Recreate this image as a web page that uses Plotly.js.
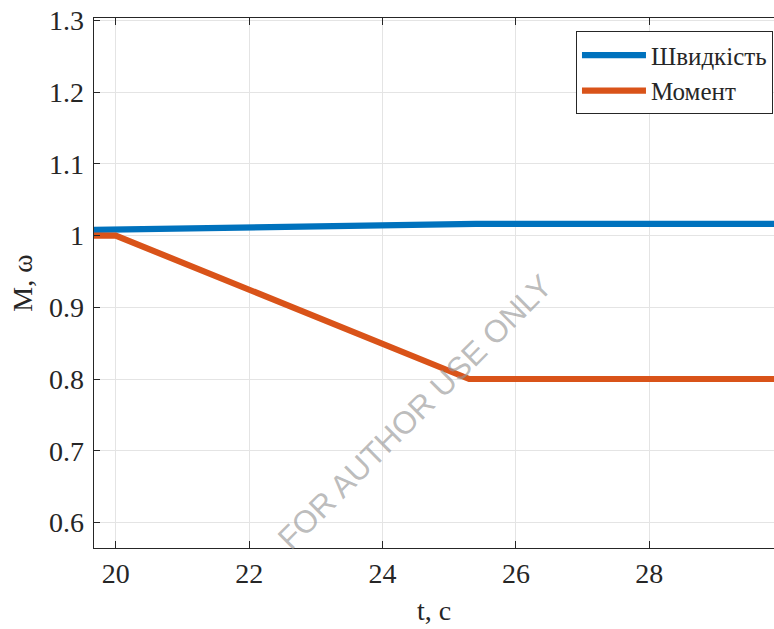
<!DOCTYPE html>
<html>
<head>
<meta charset="utf-8">
<script src="https://cdn.plot.ly/plotly-3.0.1.min.js"></script>
<style>
  html, body { margin: 0; padding: 0; background: #ffffff; }
  #chart { width: 774px; height: 629px; }
</style>
</head>
<body>
<div id="chart"></div>
<script>
// Time samples (s) and responses of speed and torque
const tSpeed = [19.674, 25.4, 29.87];
const speed = [1.008, 1.0165, 1.0165];

const tTorque = [19.674, 20.0, 25.3, 29.87];
const torque = [1.0, 1.0, 0.8, 0.8];

const xTicks = [20, 22, 24, 26, 28];
const yTicks = [0.6, 0.7, 0.8, 0.9, 1.0, 1.1, 1.2, 1.3];
const yTickText = ['0.6', '0.7', '0.8', '0.9', '1', '1.1', '1.2', '1.3'];

const serif = 'Liberation Serif';
const ink = '#262626';

const traces = [
  {
    x: tSpeed, y: speed, name: 'Швидкість', mode: 'lines',
    line: { color: '#0072BD', width: 6.2 }
  },
  {
    x: tTorque, y: torque, name: 'Момент', mode: 'lines',
    line: { color: '#D95319', width: 6.2 }
  }
];

const layout = {
  width: 774, height: 629,
  margin: { l: 94.3, r: 0, t: 17.5, b: 80.7 },
  paper_bgcolor: '#ffffff', plot_bgcolor: '#ffffff',
  font: { family: serif, color: ink, size: 28 },
  showlegend: true,
  legend: {
    x: 0.9985, xanchor: 'right', y: 0.9746, yanchor: 'top',
    bgcolor: '#ffffff', bordercolor: ink, borderwidth: 1,
    font: { family: serif, size: 25, color: ink },
    itemwidth: 64, entrywidth: 210, tracegroupgap: 0,
    traceorder: 'normal'
  },
  xaxis: {
    range: [19.674, 29.87],
    tickmode: 'array', tickvals: xTicks,
    ticks: 'inside', ticklen: 7, tickcolor: ink, tickwidth: 1,
    showline: true, linecolor: ink, linewidth: 1.3, mirror: 'ticks',
    showgrid: true, gridcolor: '#e4e4e4', gridwidth: 1,
    zeroline: false,
    tickfont: { family: serif, size: 28, color: ink },
    title: { text: 't, с', font: { family: serif, size: 28, color: ink }, standoff: 12 }
  },
  yaxis: {
    range: [0.5643, 1.3035],
    tickmode: 'array', tickvals: yTicks, ticktext: yTickText,
    ticks: 'inside', ticklen: 6, tickcolor: ink, tickwidth: 1,
    ticklabelstandoff: 3,
    showline: true, linecolor: ink, linewidth: 1.3,
    showgrid: true, gridcolor: '#e4e4e4', gridwidth: 1,
    zeroline: false,
    tickfont: { family: serif, size: 28, color: ink },
    title: { text: 'M, ω', font: { family: serif, size: 28, color: ink }, standoff: 8 }
  },
  annotations: [
    {
      text: 'FOR AUTHOR USE ONLY',
      xref: 'paper', yref: 'paper', x: 0.472, y: 0.256,
      xanchor: 'center', yanchor: 'middle',
      textangle: -45, showarrow: false,
      font: { family: 'Liberation Sans', size: 31.5, color: 'rgba(150,150,150,0.65)' }
    }
  ]
};

Plotly.newPlot('chart', traces, layout, { displayModeBar: false, staticPlot: true });
</script>
</body>
</html>
